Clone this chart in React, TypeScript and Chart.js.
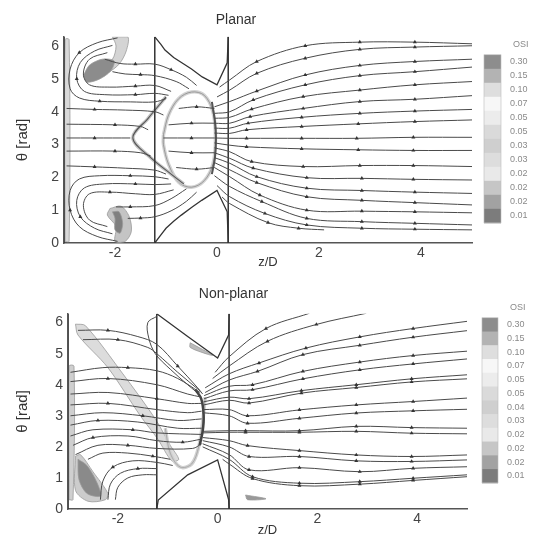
import React, { useEffect, useRef } from "react";
import { Chart, registerables } from "chart.js";
Chart.register(...registerables);

type Pt = number[];

const TWO_PI = 6.283;
const xTickValues = [-2, 0, 2, 4];
const yTickValues = [0, 1, 2, 3, 4, 5, 6];

const osiLabelsPlanar = ["0.30", "0.15", "0.10", "0.07", "0.05", "0.05", "0.03", "0.03", "0.02", "0.02", "0.02", "0.01"];
const osiLabelsNonPlanar = ["0.30", "0.15", "0.10", "0.07", "0.05", "0.05", "0.04", "0.03", "0.02", "0.02", "0.02", "0.01"];
const osiShades = ["#8d8d8d", "#b3b3b3", "#dedede", "#f7f7f7", "#ececec", "#dadada", "#cfcfcf", "#dddddd", "#e9e9e9", "#c6c6c6", "#a2a2a2", "#7c7c7c"];

// ---------- Planar ----------
const planarWalls: Pt[][] = [
  [[-1.22, 0], [-1.22, TWO_PI]],
  [[0.22, 0], [0.22, TWO_PI]],
  [[-3, 0], [-3, TWO_PI]],
];
const planarStenosisTop: Pt[] = [[-1.22, TWO_PI], [-1.1, 6.05], [-1.02, 5.88], [-0.85, 5.65], [-0.69, 5.49], [-0.5, 5.3], [-0.29, 5.06], [0, 4.82], [0.2, 5.49], [0.22, TWO_PI]];
const planarStenosisBottom: Pt[] = [[-1.22, 0], [-1.1, 0.25], [-1.0, 0.45], [-0.85, 0.66], [-0.7, 0.85], [-0.5, 1.08], [-0.3, 1.3], [0, 1.6], [0.2, 0.95], [0.22, 0]];

const planarUpstream: Pt[][] = [
  [[-1.95, 6.25], [-2.35, 6.1], [-2.7, 5.8, 1], [-2.88, 5.3], [-2.88, 4.7], [-2.7, 4.42], [-2.3, 4.32, 1], [-1.7, 4.3], [-1.22, 4.3], [-1.0, 4.4]],
  [[-2.05, 6.02], [-2.4, 5.85], [-2.68, 5.5], [-2.75, 5.0, 1], [-2.6, 4.62], [-2.2, 4.52], [-1.6, 4.52, 1], [-1.22, 4.56], [-0.95, 4.5]],
  [[-2.15, 5.8], [-2.5, 5.6], [-2.62, 5.15], [-2.5, 4.82], [-2.1, 4.75], [-1.6, 4.78, 1], [-1.22, 4.8], [-0.9, 4.62]],
  [[-2.2, 5.6], [-1.9, 5.47], [-1.6, 5.45, 1], [-1.22, 5.45], [-0.9, 5.28, 1], [-0.6, 5.05], [-0.4, 4.8]],
  [[-2.05, 5.22], [-1.8, 5.15], [-1.5, 5.13, 1], [-1.22, 5.1], [-0.8, 4.92], [-0.55, 4.7]],
  [[-2.95, 4.1], [-2.4, 4.07, 1], [-1.8, 4.05], [-1.22, 4.0], [-1.05, 3.9]],
  [[-2.95, 3.62], [-2.0, 3.6, 1], [-1.5, 3.55], [-1.35, 3.45]],
  [[-2.95, 3.2], [-2.4, 3.2, 1], [-1.7, 3.2]],
  [[-2.95, 2.8], [-2.0, 2.8, 1], [-1.5, 2.75], [-1.3, 2.65]],
  [[-2.95, 2.35], [-2.4, 2.32, 1], [-1.8, 2.28], [-1.22, 2.22], [-1.0, 2.1]],
  [[-1.95, 0.05], [-2.35, 0.2], [-2.7, 0.5], [-2.88, 1.0, 1], [-2.88, 1.6], [-2.7, 1.95], [-2.3, 2.05], [-1.7, 2.05, 1], [-1.22, 2.02], [-0.95, 1.95]],
  [[-2.05, 0.28], [-2.4, 0.45], [-2.68, 0.8, 1], [-2.75, 1.3], [-2.6, 1.68], [-2.2, 1.8], [-1.6, 1.8, 1], [-1.22, 1.78], [-0.9, 1.8]],
  [[-2.15, 0.5], [-2.5, 0.7], [-2.62, 1.15], [-2.5, 1.5], [-2.1, 1.55, 1], [-1.6, 1.5], [-1.22, 1.48], [-0.85, 1.62]],
  [[-1.98, 1.1], [-1.7, 1.1, 1], [-1.22, 1.14], [-0.9, 1.35], [-0.6, 1.65]],
  [[-1.75, 0.75], [-1.5, 0.76, 1], [-1.22, 0.8], [-0.9, 0.98], [-0.6, 1.27], [-0.4, 1.55]],
];

const planarRecirc: Pt[][] = [
  [[-0.05, 4.1], [-0.4, 4.15, 1], [-0.75, 4.1]],
  [[-0.05, 3.65], [-0.5, 3.65, 1], [-0.95, 3.6]],
  [[-0.05, 3.2], [-0.5, 3.2, 1], [-1.05, 3.2]],
  [[-0.05, 2.75], [-0.5, 2.75, 1], [-0.95, 2.8]],
  [[-0.05, 2.3], [-0.4, 2.25, 1], [-0.8, 2.3]],
];

const planarDownstream: Pt[][] = [
  [[0.05, 4.75], [0.25, 4.97], [0.78, 5.53], [1.73, 6.01], [2.8, 6.12], [3.88, 6.12], [5, 6.07]],
  [[0.0, 4.45], [0.25, 4.66], [0.78, 5.17], [1.73, 5.63], [2.8, 5.9], [3.88, 5.97], [5, 6.01]],
  [[-0.05, 4.15], [0.25, 4.31], [0.78, 4.63], [1.73, 5.12], [2.8, 5.41], [3.88, 5.53], [5, 5.6]],
  [[-0.05, 3.95], [0.25, 4.0], [0.71, 4.36], [1.73, 4.82], [2.8, 5.1], [3.88, 5.22], [5, 5.36]],
  [[-0.05, 3.8], [0.25, 3.83], [0.68, 4.08], [1.69, 4.46], [2.8, 4.66], [3.88, 4.82], [5, 4.92]],
  [[-0.05, 3.65], [0.25, 3.65], [0.65, 3.85], [1.69, 4.1], [2.8, 4.31], [3.88, 4.38], [5, 4.49]],
  [[-0.05, 3.5], [0.25, 3.5], [0.61, 3.65], [1.66, 3.83], [2.8, 3.95], [3.88, 4.02], [5, 4.07]],
  [[-0.05, 3.35], [0.25, 3.34], [0.58, 3.45], [1.66, 3.55], [2.77, 3.63], [3.88, 3.7], [5, 3.75]],
  [[-0.05, 3.2], [0.25, 3.19], [0.58, 3.19], [1.66, 3.19], [2.74, 3.19], [3.85, 3.22], [5, 3.22]],
  [[-0.05, 3.05], [0.25, 2.98], [0.58, 2.93], [1.66, 2.87], [2.77, 2.84], [3.85, 2.82], [5, 2.82]],
  [[-0.05, 2.9], [0.25, 2.78], [0.68, 2.48], [1.69, 2.33], [2.8, 2.36], [3.85, 2.36], [5, 2.33]],
  [[-0.05, 2.75], [0.25, 2.58], [0.71, 2.28], [1.76, 1.99], [2.84, 1.97], [3.85, 1.94], [5, 1.92]],
  [[-0.05, 2.6], [0.25, 2.43], [0.78, 2.02], [1.76, 1.67], [2.84, 1.6], [3.88, 1.55], [5, 1.51]],
  [[-0.05, 2.45], [0.25, 2.23], [0.78, 1.84], [1.76, 1.41], [2.84, 1.3], [3.88, 1.23], [5, 1.16]],
  [[-0.05, 2.3], [0.25, 2.02], [0.84, 1.46], [1.76, 1.0], [2.84, 0.97], [3.88, 0.95], [5, 0.92]],
  [[-0.05, 2.05], [0.25, 1.72], [0.88, 1.26], [1.76, 0.75], [2.84, 0.65], [3.88, 0.6], [5, 0.55]],
  [[0.0, 1.75], [0.25, 1.41], [0.94, 0.9], [1.76, 0.55], [2.84, 0.45], [3.88, 0.42], [5, 0.4]],
  [[0.1, 1.4], [0.25, 1.2], [1.0, 0.62], [1.6, 0.45], [2.1, 0.4]],
];

// drawn in list order: later entries lie on top
const planarPatches: { pts: Pt[]; fill: string }[] = [
  { pts: [[-2.98, 0.05], [-2.9, 0.05], [-2.9, 6.2], [-2.98, 6.2], [-2.98, 0.05]], fill: "#d9d9d9" },
  { pts: [[-2.05, TWO_PI], [-1.75, TWO_PI], [-1.78, 5.85], [-1.92, 5.45], [-2.15, 5.2], [-2.3, 5.3], [-2.05, 5.6], [-1.98, 6.0], [-2.05, TWO_PI]], fill: "#d4d4d4" },
  { pts: [[-2.62, 5.1], [-2.5, 5.42], [-2.25, 5.6], [-2.02, 5.55], [-2.08, 5.25], [-2.3, 5.0], [-2.55, 4.9], [-2.62, 5.1]], fill: "#8c8c8c" },
  { pts: [[-2.1, 1.05], [-1.88, 1.12], [-1.72, 0.8], [-1.68, 0.35], [-1.8, 0.05], [-2.0, 0.05], [-1.98, 0.5], [-2.15, 0.85], [-2.1, 1.05]], fill: "#c4c4c4" },
  { pts: [[-2.05, 0.95], [-1.92, 0.95], [-1.85, 0.6], [-1.9, 0.3], [-2.0, 0.4], [-2.0, 0.75], [-2.05, 0.95]], fill: "#808080" },
];
const planarRings: { pts: Pt[]; color: string; width: number }[] = [
  { pts: [[-1.05, 3.3], [-0.95, 3.9], [-0.75, 4.4], [-0.5, 4.6], [-0.25, 4.5], [-0.08, 4.0], [-0.03, 3.2], [-0.08, 2.4], [-0.25, 1.9], [-0.5, 1.7], [-0.75, 1.85], [-0.95, 2.4], [-1.05, 3.0], [-1.05, 3.3]], color: "#d2d2d2", width: 3.5 },
  { pts: [[-1.05, 3.3], [-0.95, 3.9], [-0.75, 4.4], [-0.5, 4.6], [-0.25, 4.5], [-0.08, 4.0], [-0.03, 3.2], [-0.08, 2.4], [-0.25, 1.9], [-0.5, 1.7], [-0.75, 1.85], [-0.95, 2.4], [-1.05, 3.0], [-1.05, 3.3]], color: "#8a8a8a", width: 0.8 },
  { pts: [[-1.0, 4.45], [-1.35, 3.8], [-1.65, 3.2], [-1.3, 2.6], [-0.9, 2.1], [-0.65, 1.8]], color: "#c4c4c4", width: 3.5 },
  { pts: [[-1.0, 4.45], [-1.35, 3.8], [-1.65, 3.2], [-1.3, 2.6], [-0.9, 2.1], [-0.65, 1.8]], color: "#555", width: 1.1 },
  { pts: [[-0.1, 4.3], [-0.04, 3.7], [-0.02, 3.2], [-0.04, 2.6], [-0.1, 2.1]], color: "#555", width: 2 },
];

// ---------- Non-planar ----------
const nonPlanarWalls: Pt[][] = [
  [[-1.22, 0], [-1.22, TWO_PI]],
  [[0.23, 0], [0.23, TWO_PI]],
  [[-3, 0], [-3, TWO_PI]],
];
const nonPlanarStenosisTop: Pt[] = [[-1.22, TWO_PI], [-0.6, 5.55], [0, 4.86], [0.22, 5.6], [0.23, TWO_PI]];
const nonPlanarStenosisBottom: Pt[] = [[-1.22, 0], [-1.19, 0.29], [-0.6, 1.1], [0, 1.58], [0.22, 0.3], [0.23, 0]];

const nonPlanarUpstream: Pt[][] = [
  [[-2.8, 5.75], [-2.2, 5.75, 1], [-1.6, 5.55], [-1.22, 5.3], [-0.8, 4.6, 1], [-0.4, 3.9], [-0.3, 3.7]],
  [[-2.7, 5.45], [-2.0, 5.45, 1], [-1.4, 5.2], [-1.22, 5.0], [-0.8, 4.4], [-0.35, 3.8]],
  [[-2.95, 4.4], [-2.3, 4.55], [-1.8, 4.55, 1], [-1.22, 4.45], [-0.8, 4.2], [-0.35, 3.75]],
  [[-2.95, 4.1], [-2.2, 4.2, 1], [-1.22, 4.0], [-0.6, 3.7], [-0.32, 3.6]],
  [[-2.95, 3.7], [-2.2, 3.75], [-1.22, 3.55, 1], [-0.6, 3.4], [-0.32, 3.4]],
  [[-2.95, 3.35], [-2.2, 3.4, 1], [-1.22, 3.2], [-0.6, 3.1], [-0.32, 3.15]],
  [[-2.95, 3.0], [-2.3, 3.1], [-1.5, 3.0, 1], [-0.8, 2.85], [-0.32, 2.9]],
  [[-2.95, 2.7], [-2.4, 2.85, 1], [-1.6, 2.8], [-0.8, 2.6], [-0.32, 2.6]],
  [[-2.95, 2.35], [-2.5, 2.55], [-1.7, 2.55, 1], [-1.22, 2.45], [-0.32, 2.4]],
  [[-2.9, 2.05], [-2.5, 2.3, 1], [-1.8, 2.35], [-1.22, 2.2], [-0.7, 2.15, 1], [-0.32, 2.25]],
  [[-2.85, 1.75], [-2.4, 2.05], [-1.8, 2.05, 1], [-1.22, 1.95], [-0.5, 1.95], [-0.32, 2.1]],
  [[-2.6, 1.6], [-2.3, 1.8], [-1.8, 1.8], [-1.3, 1.7, 1], [-0.95, 1.6]],
  [[-2.35, 0.3], [-2.3, 0.9], [-2.1, 1.35, 1], [-1.7, 1.55], [-1.22, 1.5], [-0.9, 1.4]],
  [[-2.2, 0.3], [-2.15, 0.8], [-1.95, 1.15], [-1.6, 1.3, 1], [-1.22, 1.3]],
  [[-2.05, 0.3], [-2.0, 0.7], [-1.8, 1.0], [-1.5, 1.1], [-1.22, 1.1]],
  [[-1.22, 6.2], [-1.4, 6.0], [-1.38, 5.5], [-1.25, 5.0], [-0.95, 4.5], [-0.6, 4.0], [-0.45, 3.8]],
];

const nonPlanarDownstream: Pt[][] = [
  [[-0.05, 4.4], [0.23, 4.9], [0.97, 5.81], [1.84, 6.3]],
  [[-0.1, 4.2], [0.23, 4.6], [1.0, 5.4], [1.98, 5.94], [2.98, 6.3]],
  [[-0.25, 3.9], [0.23, 4.35], [0.83, 4.7], [1.77, 5.18], [2.85, 5.54], [3.92, 5.81], [5, 6.04]],
  [[-0.25, 3.75], [0.23, 4.15], [0.8, 4.43], [1.71, 4.97], [2.85, 5.27], [3.92, 5.53], [5, 5.74]],
  [[-0.27, 3.65], [0.23, 3.95], [0.7, 4.0], [1.71, 4.43], [2.85, 4.73], [3.92, 4.94], [5, 5.08]],
  [[-0.27, 3.55], [0.23, 3.8], [0.7, 3.84], [1.71, 4.19], [2.85, 4.48], [3.92, 4.67], [5, 4.83]],
  [[-0.28, 3.45], [0.23, 3.6], [0.63, 3.55], [1.68, 3.81], [2.78, 4.0], [3.89, 4.19], [5, 4.32]],
  [[-0.28, 3.35], [0.23, 3.5], [0.63, 3.41], [1.68, 3.73], [2.78, 3.91], [3.89, 4.09], [5, 4.19]],
  [[-0.3, 3.2], [0.23, 3.2], [0.6, 3.0], [1.64, 3.19], [2.78, 3.35], [3.92, 3.46], [5, 3.57]],
  [[-0.3, 3.1], [0.23, 3.0], [0.6, 2.76], [1.64, 2.92], [2.78, 3.09], [3.92, 3.16], [5, 3.21]],
  [[-0.3, 2.5], [0.23, 2.52], [0.56, 2.52], [1.64, 2.52], [2.78, 2.66], [3.89, 2.62], [5, 2.6]],
  [[-0.3, 2.45], [0.23, 2.47], [0.56, 2.47], [1.64, 2.47], [2.78, 2.5], [3.89, 2.44], [5, 2.42]],
  [[-0.3, 2.3], [0.23, 2.2], [0.6, 2.04], [1.64, 1.88], [2.78, 1.74], [3.89, 1.69], [5, 1.74]],
  [[-0.3, 2.2], [0.23, 2.0], [0.63, 1.69], [1.64, 1.69], [2.78, 1.55], [3.89, 1.53], [5, 1.58]],
  [[-0.3, 2.1], [0.23, 1.75], [0.63, 1.26], [1.64, 1.33], [2.85, 1.2], [3.92, 1.31], [5, 1.36]],
  [[-0.3, 2.0], [0.23, 1.6], [0.7, 1.04], [1.64, 0.83], [2.85, 0.88], [3.92, 0.99], [5, 1.1]],
  [[0.1, 1.6], [0.23, 1.45], [0.7, 0.98], [1.64, 0.75], [2.85, 0.8], [3.92, 0.92], [5, 1.04]],
];

const nonPlanarPatches: { pts: Pt[]; fill: string }[] = [
  { pts: [[-2.98, 0.3], [-2.9, 0.3], [-2.88, 4.6], [-2.98, 4.6], [-2.98, 0.3]], fill: "#cfcfcf" },
  { pts: [[-2.85, 5.95], [-2.65, 5.9], [-1.9, 4.35], [-1.25, 2.9], [-0.95, 2.05], [-0.78, 1.6], [-0.92, 1.55], [-1.2, 2.25], [-1.55, 3.0], [-2.2, 4.55], [-2.8, 5.6], [-2.85, 5.95]], fill: "#dcdcdc" },
  { pts: [[-2.85, 1.7], [-2.85, 0.6], [-2.6, 0.25], [-2.25, 0.3], [-2.2, 0.5], [-2.5, 1.2], [-2.75, 1.75], [-2.85, 1.7]], fill: "#cccccc" },
  { pts: [[-2.8, 1.6], [-2.78, 0.95], [-2.62, 0.5], [-2.35, 0.42], [-2.42, 0.85], [-2.62, 1.4], [-2.8, 1.6]], fill: "#8a8a8a" },
  { pts: [[-0.55, 5.35], [-0.1, 4.95], [-0.2, 4.98], [-0.55, 5.2], [-0.55, 5.35]], fill: "#bbbbbb" },
  { pts: [[0.56, 0.45], [0.97, 0.33], [0.6, 0.3], [0.56, 0.45]], fill: "#999999" },
];
const nonPlanarRings: { pts: Pt[]; color: string; width: number }[] = [
  { pts: [[-1.05, 2.6], [-0.95, 1.8], [-0.75, 1.35], [-0.52, 1.45], [-0.38, 2.0], [-0.3, 2.8], [-0.25, 3.6]], color: "#d0d0d0", width: 3.5 },
  { pts: [[-1.05, 2.6], [-0.95, 1.8], [-0.75, 1.35], [-0.52, 1.45], [-0.38, 2.0], [-0.3, 2.8], [-0.25, 3.6]], color: "#999", width: 0.7 },
  { pts: [[-0.45, 3.85], [-0.33, 3.55], [-0.28, 3.0], [-0.3, 2.5], [-0.36, 2.05]], color: "#444", width: 2.5 },
];

// ---------- helpers ----------
const LINE = "#4a4a4a";
const FONT = "'Liberation Sans', Arial, sans-serif";

const toPts = (line: Pt[], markInterior: boolean) =>
  line.map((p, i) => ({ x: p[0], y: p[1], m: markInterior ? i >= 2 && i < line.length - 1 : p[2] === 1 }));

function streamDs(lines: Pt[][], markInterior: boolean) {
  return lines.map((l) => ({
    data: toPts(l, markInterior),
    showLine: true,
    borderColor: LINE,
    borderWidth: 1,
    tension: 0.35,
    pointRadius: (c: any) => (c.raw && c.raw.m ? 2.3 : 0),
    pointStyle: "triangle",
    pointBackgroundColor: "#333",
    pointBorderColor: "#333",
    pointBorderWidth: 0,
    fill: false,
  }));
}
function wallDs(lines: Pt[][], width: number) {
  return lines.map((l) => ({
    data: toPts(l, false),
    showLine: true,
    borderColor: "#333",
    borderWidth: width,
    tension: 0,
    pointRadius: 0,
    fill: false,
  }));
}
function patchDs(patches: { pts: Pt[]; fill: string }[]) {
  // Chart.js paints the first dataset last, so reverse to keep list order as paint order
  return patches
    .map((p) => ({
      data: toPts(p.pts, false),
      showLine: true,
      borderColor: "#9a9a9a",
      borderWidth: 0.8,
      backgroundColor: p.fill,
      tension: 0.3,
      pointRadius: 0,
      fill: "shape",
    }))
    .reverse();
}
function ringDs(rings: { pts: Pt[]; color: string; width: number }[]) {
  return rings
    .map((r) => ({
      data: toPts(r.pts, false),
      showLine: true,
      borderColor: r.color,
      borderWidth: r.width,
      tension: 0.35,
      pointRadius: 0,
      fill: false,
    }))
    .reverse();
}

const colorbarPlugin = {
  id: "osiBar",
  afterDraw(chart: any, _args: any, opts: any) {
    const { ctx, chartArea } = chart;
    const labels: string[] = opts.labels;
    const shades: string[] = opts.shades;
    const x = chartArea.right + opts.dx;
    const y0 = chartArea.top + opts.dy;
    const seg = opts.h / labels.length;
    ctx.save();
    labels.forEach((_lab, i) => {
      ctx.fillStyle = shades[i];
      ctx.fillRect(x, y0 + i * seg, opts.w, seg + 0.5);
    });
    ctx.strokeStyle = "#bbb";
    ctx.lineWidth = 0.6;
    ctx.strokeRect(x, y0, opts.w, opts.h);
    ctx.fillStyle = "#8a8a8a";
    ctx.font = `9px ${FONT}`;
    ctx.textBaseline = "middle";
    ctx.textAlign = "left";
    labels.forEach((lab, i) => {
      ctx.fillText(lab, x + opts.w + 9, y0 + (i + 0.5) * seg);
    });
    ctx.fillText("OSI", x + opts.w + 12, y0 - 10);
    ctx.restore();
  },
};

function makeConfig(p: {
  title: string;
  titlePad: { top: number; bottom: number };
  yWidth: number;
  xHeight: number;
  padRight: number;
  datasets: any[];
  bar: any;
}) {
  return {
    type: "scatter",
    data: { datasets: p.datasets },
    plugins: [colorbarPlugin],
    options: {
      animation: false,
      responsive: false,
      events: [],
      layout: { padding: { left: 0, right: p.padRight, top: 0, bottom: 0 } },
      plugins: {
        legend: { display: false },
        tooltip: { enabled: false },
        title: {
          display: true,
          text: p.title,
          color: "#333",
          font: { family: FONT, size: 14, weight: "normal" },
          padding: p.titlePad,
        },
        osiBar: p.bar,
      },
      scales: {
        x: {
          type: "linear",
          min: -3,
          max: 5,
          grid: { display: false, drawTicks: false },
          border: { display: true, color: "#555", width: 1.5 },
          afterBuildTicks: (s: any) => {
            s.ticks = xTickValues.map((v) => ({ value: v }));
          },
          afterFit: (s: any) => {
            s.height = p.xHeight;
          },
          ticks: { color: "#444", padding: 2, font: { family: FONT, size: 14 } },
          title: { display: true, text: "z/D", color: "#333", padding: { top: 0, bottom: 0 }, font: { family: FONT, size: 13 } },
        },
        y: {
          type: "linear",
          min: 0,
          max: TWO_PI,
          grid: { display: false, drawTicks: false },
          border: { display: true, color: "#555", width: 1.5 },
          afterBuildTicks: (s: any) => {
            s.ticks = yTickValues.map((v) => ({ value: v }));
          },
          afterFit: (s: any) => {
            s.width = p.yWidth;
          },
          ticks: { color: "#444", padding: 5, font: { family: FONT, size: 14 } },
          title: { display: true, text: "θ [rad]", color: "#333", padding: { top: 14, bottom: 0 }, font: { family: FONT, size: 15 } },
        },
      },
    },
  };
}

function Panel(props: { config: any; width: number; height: number }) {
  const ref = useRef<HTMLCanvasElement | null>(null);
  useEffect(() => {
    if (!ref.current) return;
    const chart = new Chart(ref.current, props.config);
    return () => chart.destroy();
  }, []);
  return <canvas ref={ref} width={props.width} height={props.height} style={{ display: "block", width: props.width, height: props.height }} />;
}

export default function App() {
  const planarDatasets = [
    ...streamDs(planarDownstream, true),
    ...streamDs(planarUpstream, false),
    ...streamDs(planarRecirc, false),
    ...wallDs(planarWalls, 1.5),
    ...wallDs([planarStenosisTop, planarStenosisBottom], 1.3),
    ...ringDs(planarRings),
    ...patchDs(planarPatches),
  ];
  const nonPlanarDatasets = [
    ...streamDs(nonPlanarDownstream, true),
    ...streamDs(nonPlanarUpstream, false),
    ...wallDs(nonPlanarWalls, 1.5),
    ...wallDs([nonPlanarStenosisTop, nonPlanarStenosisBottom], 1.3),
    ...ringDs(nonPlanarRings),
    ...patchDs(nonPlanarPatches),
  ];
  const top = makeConfig({
    title: "Planar",
    titlePad: { top: 12, bottom: 8 },
    yWidth: 64,
    xHeight: 27,
    padRight: 63,
    datasets: planarDatasets,
    bar: { labels: osiLabelsPlanar, shades: osiShades, dx: 12, dy: 18, w: 17, h: 168 },
  });
  const bottom = makeConfig({
    title: "Non-planar",
    titlePad: { top: 16, bottom: 11 },
    yWidth: 68,
    xHeight: 29,
    padRight: 68,
    datasets: nonPlanarDatasets,
    bar: { labels: osiLabelsNonPlanar, shades: osiShades, dx: 15, dy: 4, w: 16, h: 165 },
  });
  return (
    <div style={{ position: "absolute", left: 0, top: 0, width: 535, height: 538, background: "#fff" }}>
      <Panel config={top} width={535} height={270} />
      <Panel config={bottom} width={535} height={268} />
    </div>
  );
}
